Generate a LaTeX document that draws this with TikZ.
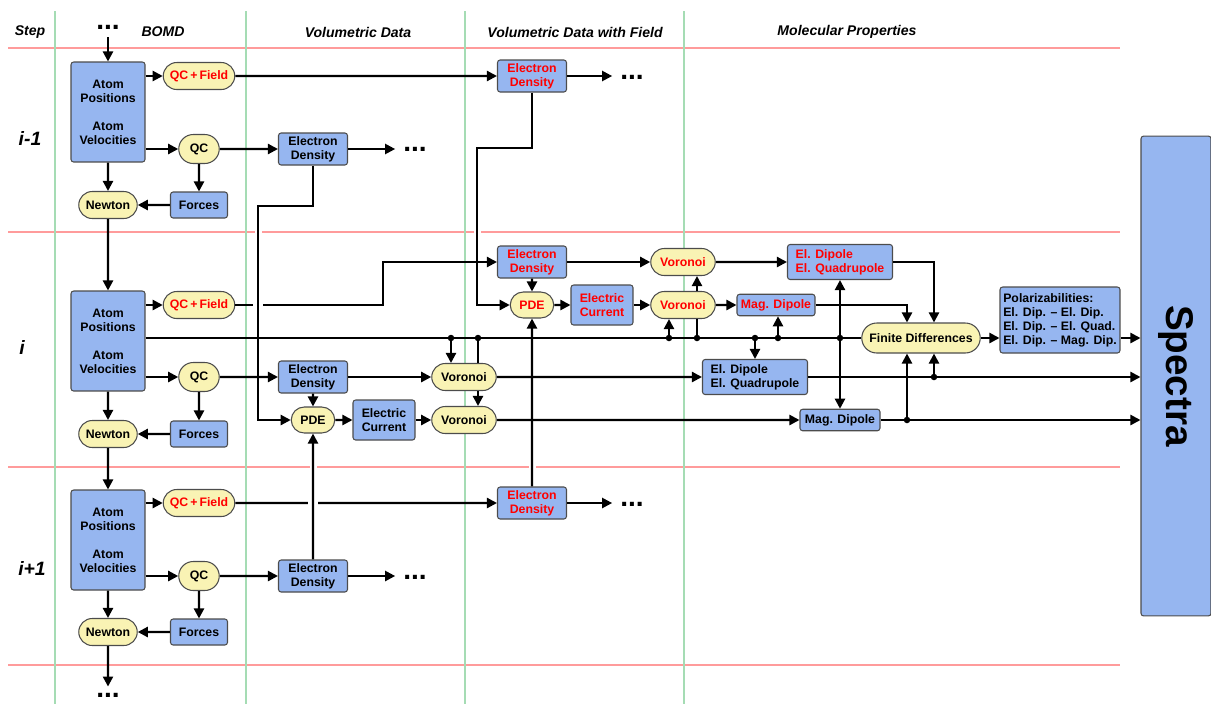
\documentclass[tikz,border=0pt]{standalone}
\usepackage{fontspec}
\setmainfont{Liberation Sans}
\usetikzlibrary{arrows.meta,shapes.misc}
\tikzset{>={Triangle[length=2mm,width=2mm]}}
\definecolor{boxblue}{RGB}{150,182,240}
\definecolor{procyellow}{RGB}{249,243,180}
\definecolor{rowred}{RGB}{255,155,155}
\definecolor{colgreen}{RGB}{165,220,180}
\begin{document}
\begin{tikzpicture}[x=0.02cm, y=-0.02cm, line width=1.25pt,
		block/.style={rectangle, rounded corners=1.5pt, draw=black!70, line width=0.6pt, fill=boxblue, inner sep=1pt, align=center, font=\fontsize{7}{8}\selectfont\bfseries},
		proc/.style={rounded rectangle, draw=black!70, line width=0.6pt, fill=procyellow, inner sep=1pt, align=center, font=\fontsize{7}{8}\selectfont\bfseries},
		atombox/.style={block, minimum width=1.48cm, minimum height=2cm},
		densbox/.style={block, minimum width=1.38cm, minimum height=0.64cm},
		forcebox/.style={block, minimum width=1.14cm, minimum height=0.52cm},
		currbox/.style={block, minimum width=1.24cm, minimum height=0.8cm},
		dipbox/.style={block, align=left, minimum width=2.1cm, minimum height=0.7cm},
		magbox/.style={block, minimum width=1.6cm, minimum height=0.43cm},
		qcfield/.style={proc, minimum width=1.5cm, minimum height=0.54cm},
		qcnode/.style={proc, minimum width=0.88cm, minimum height=0.58cm},
		newton/.style={proc, minimum width=1.24cm, minimum height=0.54cm},
		pde/.style={proc, minimum width=0.94cm, minimum height=0.52cm},
		voronoi/.style={proc, minimum width=1.36cm, minimum height=0.54cm},
		fieldtxt/.style={text=red},
		colhead/.style={font=\fontsize{8}{9}\selectfont\bfseries\itshape},
		steplabel/.style={font=\fontsize{11}{12}\selectfont\bfseries\itshape},
		etc/.style={font=\fontsize{16}{16}\selectfont\bfseries, inner sep=1pt},
		rowline/.style={draw=rowred, line width=0.8pt},
		colline/.style={draw=colgreen, line width=0.8pt}]
		\useasboundingbox (0,0) rectangle (1211,704);
		
		% table grid
		\foreach \y in {48,232,467,665} \draw[rowline] (8,\y) -- (1120,\y);
		\foreach \x in {55,246,465,684} \draw[colline] (\x,11) -- (\x,704);
		\node[colhead] (hstep) at (30,32) {Step};
		\node[colhead] (hbomd) at (163,32) {BOMD};
		\node[colhead] (hvol) at (358,32) {Volumetric Data};
		\node[colhead] (hvolf) at (575,32) {Volumetric Data with Field};
		\node[colhead] (hmol) at (847,32) {Molecular Properties};
		\node[steplabel] (s1) at (30,138) {i-1};
		\node[steplabel] (s2) at (22,347) {i};
		\node[steplabel] (s3) at (32,568) {i+1};
		
		% step i-1
		\node[etc] (topdots) at (108,27) {...};
		\node[atombox] (atom1) at (108,112) {Atom\\Positions\\[8pt]Atom\\Velocities};
		\node[qcfield, fieldtxt] (qcf1) at (199,76) {QC\,+\,Field};
		\node[qcnode] (qc1) at (199,149) {QC};
		\node[newton] (newt1) at (108,205) {Newton};
		\node[forcebox] (force1) at (199,205) {Forces};
		\node[densbox] (ed1) at (313,149) {Electron\\Density};
		\node[etc] (more1) at (415,149) {...};
		\node[densbox, fieldtxt] (fed1) at (532,76) {Electron\\Density};
		\node[etc] (fmore1) at (632,77) {...};
		
		% step i
		\node[atombox] (atom2) at (108,341) {Atom\\Positions\\[8pt]Atom\\Velocities};
		\node[qcfield, fieldtxt] (qcf2) at (199,305) {QC\,+\,Field};
		\node[qcnode] (qc2) at (199,377) {QC};
		\node[newton] (newt2) at (108,434) {Newton};
		\node[forcebox] (force2) at (199,434) {Forces};
		\node[densbox] (ed2) at (313,377) {Electron\\Density};
		\node[pde] (pde2) at (313,420) {PDE};
		\node[currbox] (ec2) at (384,420) {Electric\\Current};
		\node[voronoi] (vor2a) at (464,377) {Voronoi};
		\node[voronoi] (vor2b) at (464,420) {Voronoi};
		\node[densbox, fieldtxt] (fed2) at (532,262) {Electron\\Density};
		\node[pde, fieldtxt] (fpde2) at (532,305) {PDE};
		\node[currbox, fieldtxt] (fec2) at (602,305) {Electric\\Current};
		\node[voronoi, fieldtxt] (fvor2a) at (683,262) {Voronoi};
		\node[voronoi, fieldtxt] (fvor2b) at (683,305) {Voronoi};
		\node[dipbox, fieldtxt] (fdip2) at (840,262) {El. Dipole\\El. Quadrupole};
		\node[magbox, fieldtxt, minimum width=1.56cm] (fmag2) at (776,305) {Mag. Dipole};
		\node[dipbox] (dip2) at (755,377) {El. Dipole\\El. Quadrupole};
		\node[magbox] (mag2) at (840,420) {Mag. Dipole};
		\node[proc, minimum width=2.44cm, minimum height=0.6cm] (fd) at (921,338) {Finite Differences};
		\node[block, align=left, minimum width=2.4cm, minimum height=1.32cm] (polar) at (1060,320) {Polarizabilities:\\El. Dip. -- El. Dip.\\El. Dip. -- El. Quad.\\El. Dip. -- Mag. Dip.};
		\node[block, minimum width=1.4cm, minimum height=9.6cm, font=\fontsize{22}{22}\selectfont\bfseries] (spectra) at (1176,376) {\rotatebox{-90}{Spectra}};
		
		% step i+1
		\node[atombox] (atom3) at (108,540) {Atom\\Positions\\[8pt]Atom\\Velocities};
		\node[qcfield, fieldtxt] (qcf3) at (199,503) {QC\,+\,Field};
		\node[qcnode] (qc3) at (199,576) {QC};
		\node[newton] (newt3) at (108,632) {Newton};
		\node[forcebox] (force3) at (199,632) {Forces};
		\node[densbox] (ed3) at (313,576) {Electron\\Density};
		\node[etc] (more3) at (415,577) {...};
		\node[densbox, fieldtxt] (fed3) at (532,503) {Electron\\Density};
		\node[etc] (fmore3) at (632,504) {...};
		\node[etc] (botdots) at (108,695) {...};
		
		\coordinate (fdl) at ([xshift=-0.28cm]fd.south);
		\coordinate (fdr) at ([xshift=0.26cm]fd.south);
		\coordinate (fdtl) at ([xshift=-0.28cm]fd.north);
		\coordinate (fdtr) at ([xshift=0.26cm]fd.north);
		\coordinate (j1) at (451,338);
		\coordinate (j2) at (478,338);
		\coordinate (j3) at (669,338);
		\coordinate (j4) at (697,338);
		\coordinate (j5) at (755,338);
		\coordinate (j6) at (778,338);
		\coordinate (j7) at (840,338);
		\coordinate (j8) at (fdr |- dip2);
		\coordinate (j9) at (fdl |- mag2);
		
		% BOMD
		\path (topdots) edge[->, shorten <=3pt] (atom1);
		\draw[->] (atom1.east |- qcf1) -- (qcf1.west);
		\draw[->] (atom1.east |- qc1) -- (qc1.west);
		\path (qc1) edge[->] (force1);
		\path (force1) edge[->] (newt1);
		\path (atom1) edge[->] (newt1);
		\path (newt1) edge[->] (atom2);
		\draw[->] (atom2.east |- qcf2) -- (qcf2.west);
		\draw[->] (atom2.east |- qc2) -- (qc2.west);
		\path (qc2) edge[->] (force2);
		\path (force2) edge[->] (newt2);
		\path (atom2) edge[->] (newt2);
		\path (newt2) edge[->] (atom3);
		\draw[->] (atom3.east |- qcf3) -- (qcf3.west);
		\draw[->] (atom3.east |- qc3) -- (qc3.west);
		\path (qc3) edge[->] (force3);
		\path (force3) edge[->] (newt3);
		\path (atom3) edge[->] (newt3);
		\path (newt3) edge[->, shorten >=2pt] (botdots);
		
		% volumetric data
		\path (qc1) edge[->] (ed1);
		\path (ed1) edge[->, shorten >=3pt] (more1.west |- ed1);
		\path (qc2) edge[->] (ed2);
		\path (qc3) edge[->] (ed3);
		\path (ed3) edge[->, shorten >=3pt] (more3.west |- ed3);
		\path (ed2) edge[->] (vor2a);
		\path (ed2) edge[->] (pde2);
		\path (pde2) edge[->] (ec2);
		\path (ec2) edge[->] (vor2b);
		
		% with field
		\path (qcf1) edge[->] (fed1);
		\path (fed1) edge[->, shorten >=3pt] (fmore1.west |- fed1);
		\path (qcf3) edge[->] (fed3);
		\path (fed3) edge[->, shorten >=3pt] (fmore3.west |- fed3);
		\draw[->] (qcf2.east) -- (383,305) |- (fed2.west);
		\path (fed2) edge[->] (fpde2);
		\path (fed2) edge[->] (fvor2a);
		\path (fpde2) edge[->] (fec2);
		\path (fec2) edge[->] (fvor2b);
		\path (fvor2a) edge[->] (fdip2);
		\path (fvor2b) edge[->] (fmag2);
		
		% positions line
		\draw (atom2.east |- fd) -- (fd.west);
		\draw[->] (j1) -- (j1 |- vor2a.north);
		\draw (j2) -- (j2 |- vor2a.north);
		\draw[->] (j2 |- vor2a.south) -- (j2 |- vor2b.north);
		\draw[->] (j3) -- (j3 |- fvor2b.south);
		\draw (j4) -- (j4 |- fvor2b.south);
		\draw[->] (j4 |- fvor2b.north) -- (j4 |- fvor2a.south);
		\draw[->] (j5) -- (j5 |- dip2.north);
		\draw[->] (j6) -- (j6 |- fmag2.south);
		\draw[->] (j7) -- (j7 |- fdip2.south);
		\draw[->] (j7) -- (j7 |- mag2.north);
		
		% molecular properties
		\path (vor2a) edge[->] (dip2);
		\path (vor2b) edge[->] (mag2);
		\draw[->] (fdip2.east) -| (fdtr);
		\draw[->] (fmag2.east) -| (fdtl);
		\draw[->] (dip2.east) -- (dip2.east -| spectra.west);
		\draw[->] (mag2.east) -- (mag2.east -| spectra.west);
		\draw[->] (j8) -- (fdr);
		\draw[->] (j9) -- (fdl);
		\draw[->] (fd.east) -- (fd.east -| polar.west);
		\draw[->] (polar.east |- fd) -- (spectra.west |- fd);
		\foreach \j in {j1,j2,j3,j4,j5,j6,j7,j8,j9} \fill (\j) circle[radius=0.065cm];
		
		% crossings
		\fill[white] (253,302) rectangle (263,308);
		\fill[white] (308,500) rectangle (318,506);
		\foreach \x/\y in {258/232, 477/232, 313/467, 532/467} \fill[white] ({\x-3.5},{\y-2}) rectangle ({\x+3.5},{\y+2});
		\draw[->] (ed1.south) |- (258,206) |- (pde2.west);
		\draw[->] (fed1.south) |- (477,148) |- (fpde2.west);
		\path (ed3) edge[->] (pde2);
		\path (fed3) edge[->] (fpde2);
	\end{tikzpicture}
\end{document}
